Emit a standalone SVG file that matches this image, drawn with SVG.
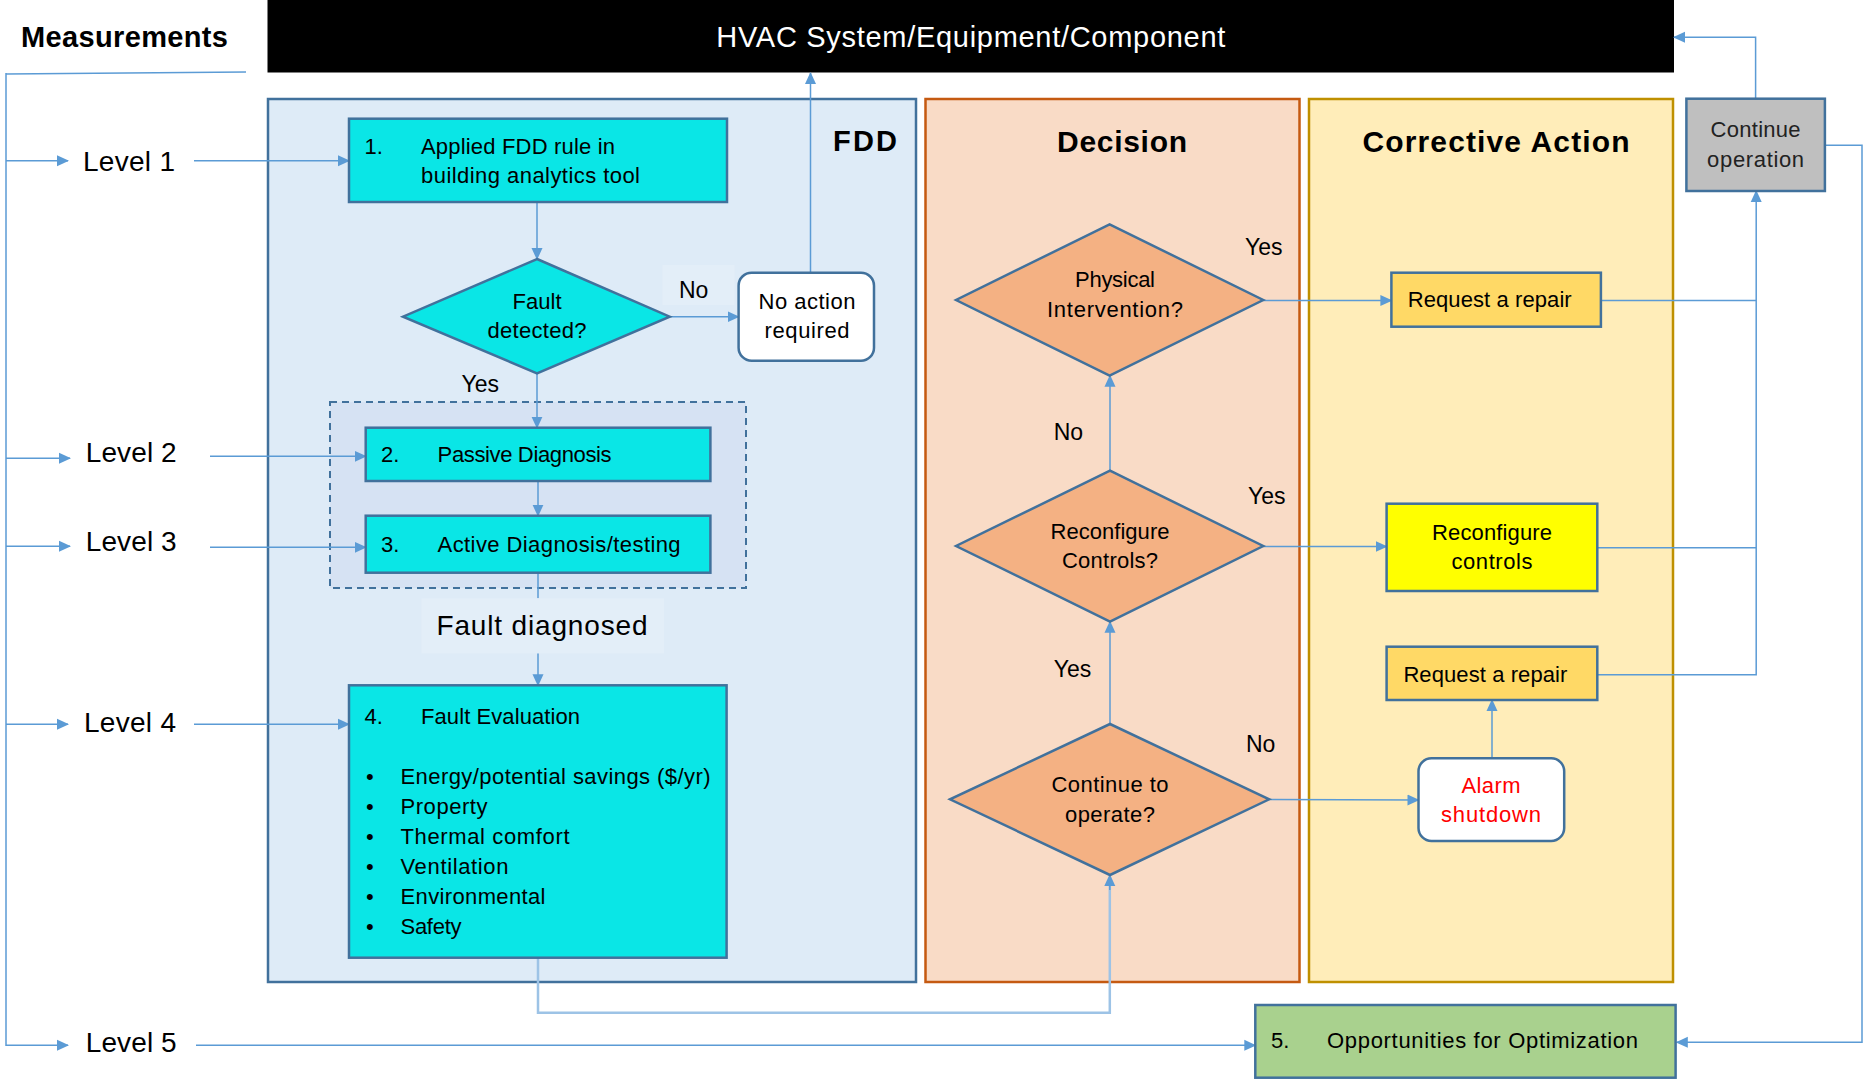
<svg xmlns="http://www.w3.org/2000/svg" width="1864" height="1083" viewBox="0 0 1864 1083">
<defs>
<marker id="ah" markerUnits="userSpaceOnUse" markerWidth="12" markerHeight="12" refX="11" refY="6" orient="auto">
<path d="M0,0.5 L12,6 L0,11.5 z" fill="#5B9BD5"/>
</marker>
<style>
text{font-family:"Liberation Sans",Arial,sans-serif;fill:#000}
.c{stroke:#5B9BD5;stroke-width:1.5;fill:none}
.cl{stroke:#9DC3E6;stroke-width:2.5;fill:none}
.bx{stroke:#41719C;stroke-width:2.5}
.cy{fill:#0AE6E6}
.or{fill:#F4B183}
.t22{font-size:22px}
.lvl{font-size:28px}
.yn{font-size:23px}
.h{font-size:30px;font-weight:bold}
.m{text-anchor:middle}
</style>
</defs>
<rect width="1864" height="1083" fill="#fff"/>

<g id="lane-fdd">
<rect x="268" y="99" width="648" height="883" fill="#DEEBF7" stroke="#41719C" stroke-width="2.5"/>
<text x="833" y="151" style="font-size:29px;font-weight:bold" textLength="64">FDD</text>
</g>
<g id="lane-decision">
<rect x="925.5" y="99" width="374" height="883" fill="#F9DBC6" stroke="#C55A11" stroke-width="2.5"/>
<text x="1122" y="152" class="h m" textLength="130">Decision</text>
</g>
<g id="lane-corrective">
<rect x="1309" y="99" width="364" height="883" fill="#FFEDB9" stroke="#BF9000" stroke-width="2.5"/>
<text x="1496" y="152" class="h m" textLength="267">Corrective Action</text>
</g>
<g id="dashed-group">
<rect x="330" y="402" width="416" height="186" fill="#D6E2F3" stroke="#41719C" stroke-width="2" stroke-dasharray="7,5"/>
</g>

<g id="hvac">
<rect x="267.5" y="0" width="1406.5" height="72.5" fill="#000"/>
<text x="970.8" y="47" class="m" style="font-size:29px;fill:#fff" textLength="509">HVAC System/Equipment/Component</text>
</g>

<g id="measurements">
<text x="21" y="47" style="font-size:29px;font-weight:bold" textLength="207">Measurements</text>
</g>

<g id="connectors">
<path class="c" d="M6,74 L246,72"/>
<path class="c" d="M6,73 L6,1045.3 L68,1045.3" marker-end="url(#ah)"/>
<path class="c" d="M6,160.7 L68,160.7" marker-end="url(#ah)"/>
<path class="c" d="M6,458.3 L70,458.3" marker-end="url(#ah)"/>
<path class="c" d="M6,546.3 L70,546.3" marker-end="url(#ah)"/>
<path class="c" d="M6,724.3 L68,724.3" marker-end="url(#ah)"/>
<path class="c" d="M194,160.7 L349,160.7" marker-end="url(#ah)"/>
<path class="c" d="M210,456.3 L365.7,456.3" marker-end="url(#ah)"/>
<path class="c" d="M210,547.3 L365.7,547.3" marker-end="url(#ah)"/>
<path class="c" d="M194,724.3 L349,724.3" marker-end="url(#ah)"/>
<path class="c" d="M196,1045.3 L1255.3,1045.3" marker-end="url(#ah)"/>
<path class="c" d="M537,202 L537,259" marker-end="url(#ah)"/>
<path class="c" d="M669.7,316.7 L738.6,316.7" marker-end="url(#ah)"/>
<path class="c" d="M810.5,272.7 L810.5,73" marker-end="url(#ah)"/>
<path class="c" d="M537,373.3 L537,427.7" marker-end="url(#ah)"/>
<path class="c" d="M538,481 L538,515.7" marker-end="url(#ah)"/>
<path class="c" d="M538,572.7 L538,598.3"/>
<path class="c" d="M538,653.3 L538,685.3" marker-end="url(#ah)"/>
<path class="cl" d="M538,957.7 L538,1012.7 L1109.8,1012.7 L1109.8,877"/>
<path class="c" d="M1109.8,890 L1109.8,875" marker-end="url(#ah)"/>
<path class="c" d="M1263.2,300.5 L1391.4,300.5" marker-end="url(#ah)"/>
<path class="c" d="M1601,300.5 L1756.2,300.5"/>
<path class="c" d="M1597.3,547.7 L1756.2,547.7"/>
<path class="c" d="M1597.3,674.7 L1756.2,674.7 L1756.2,191" marker-end="url(#ah)"/>
<path class="c" d="M1110,470.7 L1110,375.7" marker-end="url(#ah)"/>
<path class="c" d="M1263.2,546.5 L1386.6,546.5" marker-end="url(#ah)"/>
<path class="c" d="M1110,724 L1110,621.7" marker-end="url(#ah)"/>
<path class="c" d="M1269.2,799.5 L1418.5,800" marker-end="url(#ah)"/>
<path class="c" d="M1492,758.3 L1492,700" marker-end="url(#ah)"/>
<path class="c" d="M1755.6,98.7 L1755.6,37.3 L1674,37.3" marker-end="url(#ah)"/>
<path class="c" d="M1825,145.3 L1862,145.3 L1862,1042.3 L1676.8,1042.3" marker-end="url(#ah)"/>
</g>

<g id="level-labels">
<text x="83" y="170.7" class="lvl" textLength="92">Level 1</text>
<text x="85.7" y="461.7" class="lvl" textLength="91">Level 2</text>
<text x="85.7" y="551" class="lvl" textLength="91">Level 3</text>
<text x="84" y="731.7" class="lvl" textLength="92">Level 4</text>
<text x="85.7" y="1051.7" class="lvl" textLength="91">Level 5</text>
</g>

<g id="edge-labels">
<rect x="662.5" y="265" width="72" height="40" fill="#E3EEF8"/>
<text x="679" y="297.7" class="yn">No</text>
<text x="461.6" y="392" class="yn">Yes</text>
<text x="1245" y="255" class="yn">Yes</text>
<text x="1053.7" y="440" class="yn">No</text>
<text x="1248" y="504" class="yn">Yes</text>
<text x="1053.7" y="676.7" class="yn">Yes</text>
<text x="1246" y="751.7" class="yn">No</text>
</g>

<g id="n1">
<rect x="349" y="118.7" width="378" height="83.3" class="bx cy"/>
<text x="364.5" y="154" class="t22">1.</text>
<text x="421" y="154" class="t22" textLength="194">Applied FDD rule in</text>
<text x="421" y="183" class="t22" textLength="219">building analytics tool</text>
</g>
<g id="fault-detected">
<polygon points="537,259 669.7,316.7 537,373.3 403,316.7" class="bx cy" stroke-width="2"/>
<text x="537" y="309" class="t22 m" textLength="49">Fault</text>
<text x="537" y="338" class="t22 m" textLength="99">detected?</text>
</g>
<g id="no-action">
<rect x="738.6" y="272.7" width="135.4" height="88" rx="13" fill="#fff" class="bx"/>
<text x="807" y="309" class="t22 m" textLength="97">No action</text>
<text x="807" y="338" class="t22 m" textLength="85">required</text>
</g>
<g id="n2">
<rect x="365.7" y="427.7" width="344.7" height="53.3" class="bx cy"/>
<text x="381" y="461.7" class="t22">2.</text>
<text x="437.6" y="461.7" class="t22" textLength="174">Passive Diagnosis</text>
</g>
<g id="n3">
<rect x="365.7" y="515.7" width="344.7" height="57" class="bx cy"/>
<text x="381" y="551.7" class="t22">3.</text>
<text x="437.6" y="551.7" class="t22" textLength="243">Active Diagnosis/testing</text>
</g>
<g id="fault-diagnosed">
<rect x="421.5" y="598.3" width="242.5" height="55" fill="#E3EEF8"/>
<text x="436.5" y="635" style="font-size:28px" textLength="211">Fault diagnosed</text>
</g>
<g id="n4">
<rect x="349" y="685.3" width="377.6" height="272.4" class="bx cy"/>
<text x="364.5" y="724" class="t22">4.</text>
<text x="421" y="724" class="t22" textLength="159">Fault Evaluation</text>
<text x="366" y="783.5" class="t22">•</text><text x="400.5" y="783.5" class="t22" textLength="310">Energy/potential savings ($/yr)</text>
<text x="366" y="813.5" class="t22">•</text><text x="400.5" y="813.5" class="t22" textLength="87">Property</text>
<text x="366" y="843.5" class="t22">•</text><text x="400.5" y="843.5" class="t22" textLength="169">Thermal comfort</text>
<text x="366" y="873.5" class="t22">•</text><text x="400.5" y="873.5" class="t22" textLength="108">Ventilation</text>
<text x="366" y="903.5" class="t22">•</text><text x="400.5" y="903.5" class="t22" textLength="145">Environmental</text>
<text x="366" y="933.5" class="t22">•</text><text x="400.5" y="933.5" class="t22" textLength="61">Safety</text>
</g>

<g id="physical">
<polygon points="1109.6,224.3 1263.2,300 1109.6,375.7 956.1,300" class="bx or" stroke-width="2"/>
<text x="1115" y="287.3" class="t22 m" textLength="80">Physical</text>
<text x="1115" y="316.7" class="t22 m" textLength="136">Intervention?</text>
</g>
<g id="reconfigure-q">
<polygon points="1110,470.7 1263.2,546 1110,621.7 956.1,546" class="bx or" stroke-width="2"/>
<text x="1110" y="539.3" class="t22 m" textLength="119">Reconfigure</text>
<text x="1110" y="568.3" class="t22 m" textLength="96">Controls?</text>
</g>
<g id="continue-q">
<polygon points="1110,724 1269.2,799.3 1110,875 950,799.3" class="bx or" stroke-width="2"/>
<text x="1110" y="791.7" class="t22 m" textLength="117">Continue to</text>
<text x="1110" y="821.7" class="t22 m" textLength="90">operate?</text>
</g>

<g id="repair1">
<rect x="1391.4" y="272.7" width="209.5" height="54" class="bx" fill="#FFD966"/>
<text x="1407.7" y="306.7" class="t22" textLength="164">Request a repair</text>
</g>
<g id="reconfigure">
<rect x="1386.6" y="503.7" width="210.7" height="87.3" class="bx" fill="#FFFF00"/>
<text x="1492" y="540" class="t22 m" textLength="120">Reconfigure</text>
<text x="1492" y="569.3" class="t22 m" textLength="81">controls</text>
</g>
<g id="repair2">
<rect x="1386.6" y="646.7" width="210.7" height="53.3" class="bx" fill="#FFD966"/>
<text x="1403.4" y="681.7" class="t22" textLength="164">Request a repair</text>
</g>
<g id="alarm">
<rect x="1418.5" y="758.3" width="145.7" height="82.7" rx="13" fill="#fff" class="bx"/>
<text x="1491" y="793" class="t22 m" style="fill:#FF0000" textLength="59">Alarm</text>
<text x="1491" y="822.3" class="t22 m" style="fill:#FF0000" textLength="100">shutdown</text>
</g>
<g id="continue-op">
<rect x="1686.4" y="98.7" width="138.5" height="92.3" class="bx" fill="#BFBFBF"/>
<text x="1755.6" y="136.7" class="t22 m" style="fill:#222" textLength="90">Continue</text>
<text x="1755.6" y="166.7" class="t22 m" style="fill:#222" textLength="97">operation</text>
</g>
<g id="n5">
<rect x="1255.3" y="1005" width="420.3" height="72.7" class="bx" fill="#A9D18E"/>
<text x="1271" y="1048.3" class="t22">5.</text>
<text x="1327" y="1048.3" class="t22" textLength="311">Opportunities for Optimization</text>
</g>
</svg>
